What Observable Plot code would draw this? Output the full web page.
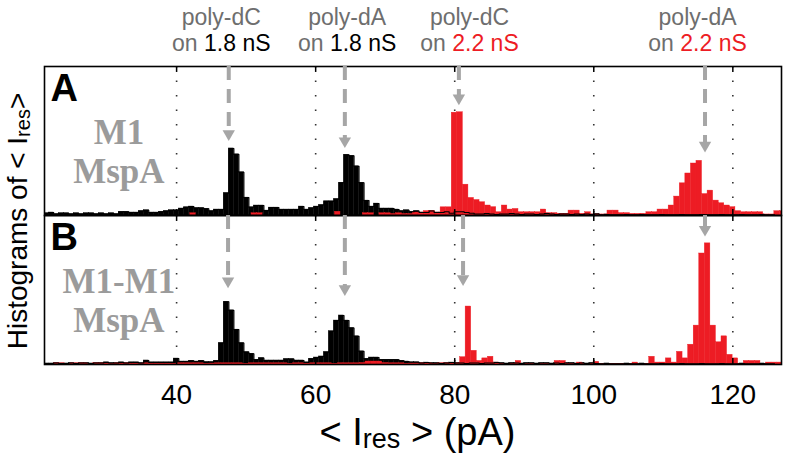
<!DOCTYPE html>
<html><head><meta charset="utf-8">
<script src="https://cdn.jsdelivr.net/npm/d3@7"></script>
<script src="https://cdn.jsdelivr.net/npm/@observablehq/plot@0.6"></script>
<style>body{margin:0;background:#fff} #chart svg{display:block}</style>
</head><body><div id="chart"></div>
<script>
// ---------- data ----------
const panels = ["A", "B"];
const poreLine1 = ["M1", "M1-M1"];
const poreLine2 = ["MspA", "MspA"];
const xTicks = [40, 60, 80, 100, 120];

const blackStart = 20.88, blackWidth = 0.72;
const redStartA = 21.17, redStartB = 21.57, redWidth = 0.8;

const blackA = [1.5,2,1,1.5,1.5,1,1.5,1,1.5,1.5,1,1.5,1,1.5,1,2.5,2.5,2,2,3,3.5,2,2,2.5,3,3.5,
  3.5,4.7,5.5,6,5,5,4.5,3,4,4,
  15,45,41,29,12,5.5,6.7,6.7,3.3,5.3,5.3,4,4,4,4,6,4,5,6,7,9.5,9.5,11,22,40.7,40,33,22,10,6,
  8,4.7,4.7,4.7,4,3,3.5,2.5,3,2,2,3,2,2,2.5,1.5,2.5,2.5,2,1.5,1,
  1,1.3,1,0.7,1,1,1.3,1,0.7,1,1,0.7,1,1.3,1,0.7,1,1,0.7,1,0.7,1,0.7,1,
  0.5,0.7,0.5,0.5,0.5,0.7,0.5,0.5,0.7,0.5,0.5,0.5,0.7,0.5,0.5,0.5,0.7,0.5,0.5,0.5,
  0.7,0.5,0.5,0.5,0.7,0.5,0.5,0.5,0.7,0.5,0.5,0.5,0.7,0.5,0.5,0.5];

const redA = [0,0,0,0,0,0,0,0,0,0,0,0,0,0,0,0,0,0,0,0,0,0,0,0,0,0,
  1.5,
  0,0,0,0,0,0,0,0,0,0,
  1.5,1.5,
  0,0,0,0,0,0,0,0,0,0,0,0,0,
  2.5,
  0,0,0,0,
  1.5,1.5,0,1.5,1.5,
  1,1.5,1,1,2,2,3,3,2,5.5,5.5,
  69,69.3,20.7,11.8,10.4,8.9,6.7,5.6,2.2,6.7,4,4.4,2.2,2.2,2.2,2.2,4,1.6,1.6,1.1,
  1.1,3.3,3.3,1.1,2.2,0.7,0.7,0.7,3.3,3.3,1.6,1.6,1.1,1.1,1.1,2.2,2.2,4,4,6.7,
  12.7,21.6,28.2,34.9,36.7,14.4,16.7,10,8.2,6.7,5.6,2.9,2.2,2.2,2.2,2.2,0.7,0.7,2.9,2.9];

const blackB = [0.7,0.7,1,0.7,0.7,1,0.7,1,1,0.7,1,1,1.4,1,1,1.4,1,1.4,1.4,1,2.7,1.4,1.4,1.4,1.4,
  1.4,4,2,2,2.5,2,2.5,1.6,1.6,2.5,
  14.4,42.1,36.3,23.4,14.4,8.3,7.2,3.2,4.3,2.7,2.7,2.7,2.7,3.6,3.6,2.7,2.7,1.4,3.8,4.7,
  5.4,8.3,22.3,29.5,32.9,29.5,24.5,18.9,8.8,3.8,4.7,4.7,3.2,3.2,3.2,3.2,2.5,2,1.5,1.5,
  1,1.3,1,1,0.7,1,1.3,1,1,0.7,1,1,0.7,1,1,1.3,1,0.7,1,1,0.7,1,1,0.7,1,1,0.7,1,0.7,1,1,0.7,1,0.7,1,0.7,
  0.5,0.7,0.5,0.5,0.5,0.7,0.5,0.5,0.7,0.5,0.5,0.5,0.7,0.5,0.5,0.5,0.7,0.5,0.5,0.5,
  0.7,0.5,0.5,0.5,0.7,0.5,0.5,0.5,0.7,0.5,0.5,0.5,0.7,0.5,0.5,0.5];

const redB = [0.5,0.8,0.8,0.5,0.8,0.8,0.8,0.5,0.8,0.8,0.8,0.5,0.8,0.8,0.8,0.8,0.5,0.8,0.8,0.8,
  0.8,0.8,0.5,0.8,0.8,0.8,0.8,0.8,0.5,0.8,0.8,0.8,0.8,0.8,0.8,0.5,0.8,0.8,0.8,0.8,
  0.8,0.8,0.8,0.5,0.8,0.8,0.8,0.8,0.8,0.8,0.8,0.5,0.8,0.8,0.8,0.8,
  1,2,2,2,1,
  0.8,0.8,0.8,0.5,0.8,0.8,0.8,0.8,0.5,0.8,0.8,0.8,0.8,
  4.9,38.9,9.2,2.4,4.1,5.2,1.3,0.5,0.5,0.5,2.4,0.5,0.5,0.5,0.5,0.5,0.5,2.4,2.4,0.5,
  0.5,1.3,0.5,0.5,1.8,0.5,0.5,0.5,0.5,0.5,0.5,1.3,0.5,0.5,5.2,1.3,1.3,4.1,1.3,8.5,
  4.1,13.3,26.1,74.5,81.3,26.1,14.9,18.9,6.5,4.1,0.3,2.4,2.4,2.4,0.5,1.3,1.3,1.3,1.3];

const peakLabel = ["poly-dC", "poly-dA", "poly-dC", "poly-dA"];
const peakCond = ["1.8 nS", "1.8 nS", "2.2 nS", "2.2 nS"];
const peakLabelX = [46.5, 64.6, 82.2, 115.0];

const arrowXA = [47.5, 64.2, 80.6, 116.0];
const arrowTipA = [50, 45.2, 74, 42.2];
const arrowXB = [47.4, 64.2, 81.2, 116.0];
const arrowTipB = [51.1, 45.9, 52.7, 85.8];

// ---------- styles ----------
const RED = "#ed1c24";
const GRAYTXT = "#6e6e6e";
const ARROW = "#a6a6a6";
const SANS = "Liberation Sans, Arial, Helvetica, sans-serif";
const SERIF = "Liberation Serif, Times New Roman, serif";

// ---------- tables ----------
const bins = (vals, start, w, panel) =>
  vals.map((v, i) => ({panel, x1: start + i * w, x2: start + (i + 1) * w, v}));
const blackRows = [...bins(blackA, blackStart, blackWidth, "A"), ...bins(blackB, blackStart, blackWidth, "B")];
const redRows = [...bins(redA, redStartA, redWidth, "A"), ...bins(redB, redStartB, redWidth, "B")];
const arrows = [
  ...arrowXA.map((x, i) => ({panel: "A", x, tip: arrowTipA[i]})),
  ...arrowXB.map((x, i) => ({panel: "B", x, tip: arrowTipB[i]}))
];
const poreRows = panels.map((p, i) => ({panel: p, l1: poreLine1[i], l2: poreLine2[i]}));

const triangleDown = {
  draw(context, size) {
    const y = Math.sqrt(size / (3 * Math.sqrt(3)));
    context.moveTo(0, 2 * y);
    context.lineTo(-Math.sqrt(3) * y, -y);
    context.lineTo(Math.sqrt(3) * y, -y);
    context.closePath();
  }
};

const plot = Plot.plot({
  width: 787,
  height: 455,
  marginLeft: 44,
  marginRight: 6,
  marginTop: 65,
  marginBottom: 91,
  style: {fontFamily: SANS, fontSize: "28px", background: "white", color: "black"},
  x: {domain: [21, 127], ticks: xTicks, tickSize: 0, tickPadding: 20, label: null},
  y: {domain: [0, 100], axis: null},
  fy: {domain: panels, axis: null, padding: 0},
  marks: [
    Plot.ruleX(xTicks, {stroke: "#333", strokeWidth: 1.6, strokeDasharray: "1.6,12.9"}),
    Plot.rectY(blackRows, {x1: "x1", x2: "x2", y: "v", fy: "panel", fill: "black", stroke: "black", strokeWidth: 0.4, clip: true}),
    Plot.rectY(redRows, {x1: "x1", x2: "x2", y: "v", fy: "panel", fill: RED, stroke: RED, strokeWidth: 0.4, clip: true}),
    Plot.lineY(blackRows, {x: "x1", y: "v", fy: "panel", curve: "step-after", stroke: "black", strokeWidth: 1.1, clip: true}),
    Plot.ruleX(xTicks, {y1: 0, y2: 4, stroke: "black", strokeWidth: 1.5}),
    Plot.ruleX(xTicks, {y1: 96, y2: 100, stroke: "black", strokeWidth: 1.5}),
    Plot.frame({stroke: "black", strokeWidth: 1.6}),
    Plot.ruleX(arrows, {x: "x", y1: 100, y2: d => d.tip + 5, fy: "panel", stroke: ARROW, strokeWidth: 4, strokeDasharray: "14,9"}),
    Plot.dot(arrows, {x: "x", y: "tip", fy: "panel", symbol: triangleDown, r: 4.6, fill: ARROW, stroke: "none", dy: -7.2}),
    Plot.text(panels, {fy: d => d, text: d => d, frameAnchor: "top-left", dx: 6, dy: 8, fontSize: 38, fontWeight: "bold", fill: "black", fontFamily: SANS}),
    Plot.text(poreRows, {fy: "panel", text: "l1", x: 31.7, y: 55.5, lineAnchor: "middle", textAnchor: "middle", fontSize: 35, fontWeight: "bold", fill: "#9b9b9b", fontFamily: SERIF}),
    Plot.text(poreRows, {fy: "panel", text: "l2", x: 31.7, y: 29.5, lineAnchor: "middle", textAnchor: "middle", fontSize: 35, fontWeight: "bold", fill: "#9b9b9b", fontFamily: SERIF})
  ]
});

document.getElementById("chart").appendChild(plot);

// ---------- rich text annotations ----------
const svg = d3.select(plot);
const sx = plot.scale("x");

peakLabel.forEach((t, i) => {
  const cx = sx.apply(peakLabelX[i]);
  svg.append("text").attr("x", cx).attr("y", 25).attr("text-anchor", "middle")
    .attr("font-family", SANS).attr("font-size", 23).attr("fill", GRAYTXT).text(t);
  const t2 = svg.append("text").attr("x", cx).attr("y", 51).attr("text-anchor", "middle")
    .attr("font-family", SANS).attr("font-size", 23);
  t2.append("tspan").attr("fill", GRAYTXT).text("on ");
  t2.append("tspan").attr("fill", peakCond[i].startsWith("2.2") ? RED : "black").text(peakCond[i]);
});

const cxAxis = (sx.range[0] + sx.range[1]) / 2 + 5;
const title = svg.append("text").attr("x", cxAxis).attr("y", 445).attr("text-anchor", "middle")
  .attr("font-family", SANS).attr("font-size", 38).attr("fill", "black");
title.append("tspan").text("< I");
title.append("tspan").attr("font-size", 27).attr("dy", 3).text("res");
title.append("tspan").attr("dy", -3).text(" > (pA)");

const yl = svg.append("text").attr("transform", "translate(27,221) rotate(-90)").attr("text-anchor", "middle")
  .attr("font-family", SANS).attr("font-size", 28).attr("fill", "black");
yl.append("tspan").text("Histograms of < I");
yl.append("tspan").attr("font-size", 20).attr("dy", 3).text("res");
yl.append("tspan").attr("dy", -3).text(">");
</script>
</body></html>
